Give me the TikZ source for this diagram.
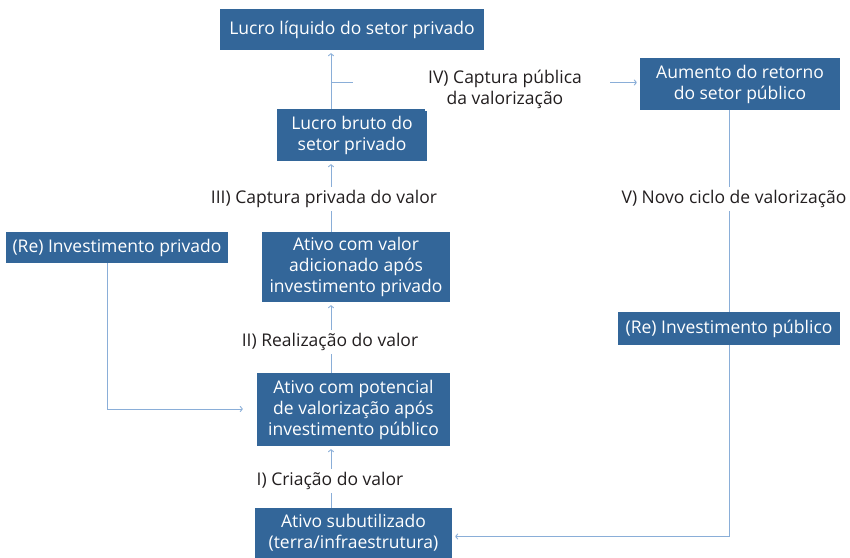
\documentclass[tikz,border=0pt]{standalone}
\usepackage{fontspec}
\setmainfont{Open Sans}
\usetikzlibrary{arrows.meta,calc}
\definecolor{boxblue}{HTML}{336699}
\definecolor{linecol}{HTML}{8AAED8}
\definecolor{txt}{HTML}{231F20}
\begin{document}
\begin{tikzpicture}[x=1pt,y=-1pt,
  box/.style={fill=boxblue,text=white,inner sep=0pt,align=center,font=\fontsize{17.5}{21}\selectfont},
  lab/.style={fill=white,text=txt,inner sep=3pt,align=center,font=\fontsize{17.5}{21}\selectfont},
  conn/.style={draw=linecol,line width=0.9pt},
  arr/.style={conn,-{To[length=3pt,width=6pt]},shorten >=3pt}]
\useasboundingbox (0,0) rectangle (850,557);
% boxes
\node[box,minimum width=264pt,minimum height=41pt] (liq) at (352,29.5) {Lucro líquido do setor privado};
\node[box,minimum width=150pt,minimum height=52pt] (bruto) at (352,135) {Lucro bruto do\\setor privado};
\node[box,minimum width=200pt,minimum height=52pt] (aum) at (740,84) {Aumento do retorno\\do setor público};
\node[box,minimum width=222pt,minimum height=31pt] (rip) at (117,247.5) {(Re) Investimento privado};
\node[box,minimum width=188pt,minimum height=70pt] (val) at (356,267) {Ativo com valor\\adicionado após\\investimento privado};
\node[box,minimum width=222pt,minimum height=33pt] (rpub) at (729,328.5) {(Re) Investimento público};
\node[box,minimum width=193pt,minimum height=73pt] (pot) at (353.5,409.5) {Ativo com potencial\\de valorização após\\investimento público};
\node[box,minimum width=197pt,minimum height=50pt] (sub) at (353.5,533) {Ativo subutilizado\\(terra/infraestrutura)};
% spine
\coordinate (sp) at (331,0);
\coordinate (rx) at (729,0);
% connectors
\draw[arr] (sub.north -| sp) -- (pot.south -| sp);
\draw[arr] (pot.north -| sp) -- (val.south -| sp);
\draw[arr] (val.north -| sp) -- (bruto.south -| sp);
\draw[arr] (bruto.north -| sp) -- (liq.south -| sp);
\coordinate (t1) at (331,82.5);
\coordinate (t2) at (353,82.5);
\draw[conn] (t1) -- (t2);
\coordinate (a0) at (610,82.5);
\draw[arr] (a0) -- (a0 -| aum.west);
\draw[conn] (aum.south -| rx) -- (rpub.north -| rx);
\coordinate (c1) at (729,536.5);
\draw[arr] (rpub.south -| rx) -- (c1) -- (c1 -| sub.east);
\coordinate (c2) at (107,409);
\draw[arr,shorten >=14pt] (rip.south -| c2) -- (c2) -- (c2 -| pot.west);
% labels
\node[lab] (l1) at (330,481) {I) Criação do valor};
\node[lab] (l2) at (330,342) {II) Realização do valor};
\node[lab] (l3) at (324,199) {III) Captura privada do valor};
\node[lab] (l4) at (505,89) {IV) Captura pública\\da valorização};
\node[lab] (l5) at (734,199) {V) Novo ciclo de valorização};
\end{tikzpicture}
\end{document}
